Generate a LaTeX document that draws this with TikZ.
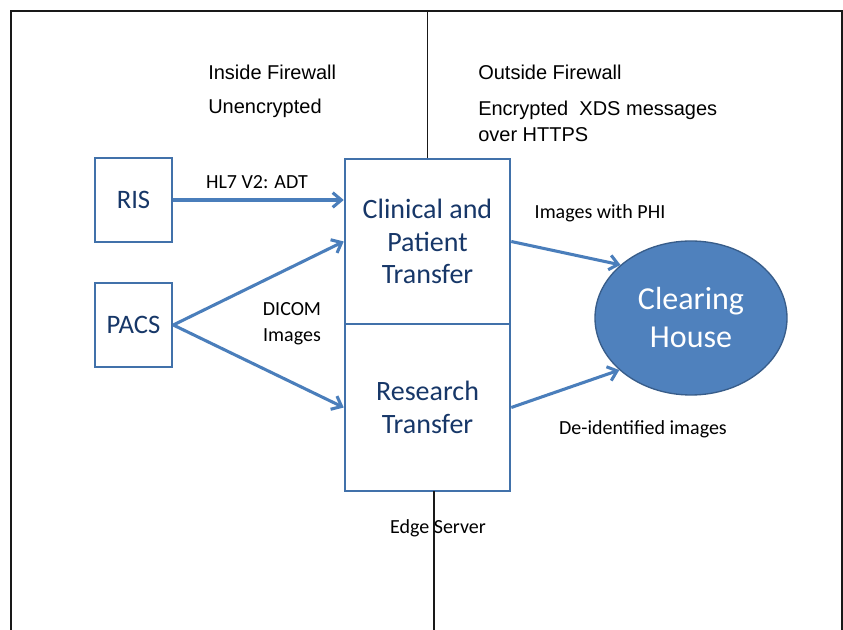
\documentclass[tikz,border=0pt]{standalone}
\usepackage{fontspec}
\setmainfont{Carlito}
\newfontfamily\arialfont{Liberation Sans}
\usetikzlibrary{arrows.meta,shapes.geometric}
\definecolor{lineblue}{RGB}{74,126,187}
\definecolor{boxblue}{RGB}{65,113,170}
\definecolor{navytext}{RGB}{23,55,104}
\definecolor{ellfill}{RGB}{79,129,189}
\definecolor{elldraw}{RGB}{56,93,138}
\definecolor{framegray}{RGB}{25,25,25}
\tikzset{
  sysbox/.style={draw=boxblue, line width=1.9pt, rectangle, inner sep=0pt,
    text=navytext, font=\fontsize{20}{24}\selectfont, align=center},
  bigbox/.style={sysbox, font=\fontsize{21}{24.5}\selectfont},
  flow/.style={draw=lineblue, line width=2.3pt,
    -{Straight Barb[length=6.5pt,width=11pt,line width=2.3pt]}},
  lbl/.style={inner sep=0pt, font=\fontsize{15}{19.5}\selectfont, align=center},
  toplbl/.style={inner sep=0pt, anchor=west, font=\arialfont\fontsize{15}{19.5}\selectfont, align=left},
  wall/.style={draw=framegray, line width=1.1pt},
}
\begin{document}
\begin{tikzpicture}[x=0.75pt,y=-0.75pt]
\useasboundingbox (0,0) rectangle (843,630);
\fill[white] (0,0) rectangle (843,630);
% frame
\draw[draw=framegray, line width=2.2pt] (11,630) -- (11,11) -- (842,11) -- (842,630);

% nodes
\node[sysbox, minimum width=57.75pt, minimum height=63pt] (RIS) at (133.5,200) {RIS};
\node[sysbox, minimum width=57.75pt, minimum height=63pt] (PACS) at (133.5,325) {PACS};
\node[bigbox, minimum width=123.75pt, minimum height=123.75pt] (clin) at (427.5,241.5) {Clinical and\\Patient\\Transfer};
\node[bigbox, minimum width=123.75pt, minimum height=125.25pt] (res) at (427.5,407.5) {Research\\Transfer};
\node[ellipse, draw=elldraw, fill=ellfill, line width=1pt, minimum width=144pt, minimum height=115.5pt,
      inner sep=0pt, text=white, align=center, font=\fontsize{24}{28.5}\selectfont] (CH) at (691,318) {Clearing\\House};

% firewall line
\coordinate (wtop) at (427.5,11);
\coordinate (wbot) at (434,630);
\coordinate (wbox) at (434,491);
\draw[wall] (wtop) -- (clin.north);
\draw[wall] (wbox) -- (wbot);

% connectors
\draw[flow] (RIS.east) -- (RIS.east -| clin.west);
\draw[flow] (PACS.east) -- (clin.west);
\draw[flow] (PACS.east) -- (res.west);
\draw[flow] (clin.east) -- (CH.143);
\draw[flow] (res.east) -- (CH.216);

% labels
\node[lbl] (hl7) at (257,182) {HL7 V2: ADT};
\node[lbl] (dicom) at (292,324) {DICOM\\Images};
\node[lbl] (phi) at (600,213) {Images with PHI};
\node[lbl] (deid) at (643,429) {De-identified images};
\node[lbl] (edge) at (438,528) {Edge Server};

\node[toplbl] (inside) at (208,72) {Inside Firewall};
\node[toplbl] (unenc) at (208,108) {Unencrypted};
\node[toplbl] (outside) at (478,72) {Outside Firewall};
\node[toplbl] (enc) at (478,121) {Encrypted\ \ XDS messages\\over HTTPS};
\end{tikzpicture}
\end{document}
